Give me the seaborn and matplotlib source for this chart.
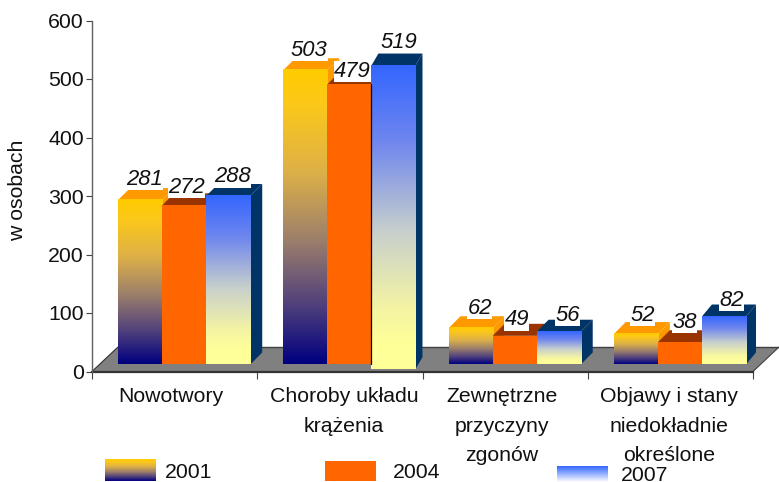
import numpy as np
import pandas as pd
import matplotlib
matplotlib.use("Agg")
import matplotlib.pyplot as plt
from matplotlib.colors import LinearSegmentedColormap as LSC
from matplotlib.patches import Polygon, Rectangle
from matplotlib.transforms import ScaledTranslation
import seaborn as sns

categories = ["Nowotwory", "Choroby układu\nkrążenia", "Zewnętrzne\nprzyczyny\nzgonów",
              "Objawy i stany\nniedokładnie\nokreślone"]
years = ["2001", "2004", "2007"]
v2001 = [281, 503, 62, 52]
v2004 = [272, 479, 49, 38]
v2007 = [288, 519, 56, 82]

W, H = 779, 482
AX_L, AX_R, AX_B, AX_T = 92, 753, 371.5, 20.5
sns.set_theme(style="white")
plt.rcParams["font.family"] = ["Liberation Sans", "DejaVu Sans"]
TXT = "#111111"
FS = 15.3

df = pd.DataFrame({
    "cat": np.repeat(categories, 3),
    "year": years * 4,
    "val": [v for t in zip(v2001, v2004, v2007) for v in t],
})

fig = plt.figure(figsize=(W / 100, H / 100), dpi=100, facecolor="white")
ax = fig.add_axes([AX_L / W, 1 - AX_B / H, (AX_R - AX_L) / W, (AX_B - AX_T) / H])
sns.barplot(data=df, x="cat", y="val", hue="year", order=categories, hue_order=years,
            gap=0, width=0.8, dodge=True, legend=False, ax=ax, errorbar=None,
            palette=["#FFCC00", "#FF6600", "#3366FF"], saturation=1, linewidth=0)
ax.set_xlim(-0.5, 3.5)
ax.set_ylim(0, 600)
PX = (AX_R - AX_L) / 4          # pixels per category
PY = (AX_B - AX_T) / 600        # pixels per unit

cm01 = LSC.from_list("c01", [(0, "#FFCC00"), (.12, "#FCC81A"), (.35, "#DDB048"), (.58, "#9C7F6B"),
                             (.8, "#50407C"), (1, "#000080")])
cm07 = LSC.from_list("c07", [(0, "#3366FF"), (.25, "#6F86EE"), (.55, "#C8D0CC"), (.8, "#F4F4A4"),
                             (.92, "#FFFF99"), (1, "#FFFF99")])
cm07k = LSC.from_list("k07", [(0, "#3366FF"), (1, "#FFFFFF")])
side_col = ["#FF9900", "#993300", "#003366"]
top_col = ["#FF9900", "#993300", "#003366"]
grad = np.linspace(0, 1, 256)[:, None]

bars = sorted([p for p in ax.patches if isinstance(p, Rectangle) and p.get_height() > 0],
              key=lambda p: p.get_x())

# floor
fx0, fx1 = -0.5, 3.5
fdx, fdy = 26 / PX, 24.5 / PY
ax.add_patch(Polygon([(fx0, 0), (fx1, 0), (fx1 + fdx, fdy), (fx0 + fdx, fdy)], closed=True,
                     facecolor="#808080", edgecolor="none", clip_on=False, zorder=1))
ax.plot([fx0 + fdx, fx1 + fdx], [fdy, fdy], color="#404040", lw=1.0, clip_on=False, zorder=1.1)
ax.plot([fx1, fx1 + fdx], [0, fdy], color="#404040", lw=0.8, clip_on=False, zorder=1.1)
ax.plot([fx0, fx0 + fdx], [0, fdy], color="#303030", lw=0.8, clip_on=False, zorder=1.1)

BASE = 12.0
SHIFT = 9.5 / PX
label_off = {  # pixel nudges of the labels relative to the bar's top centre
    281: (4, 21), 272: (2, 18), 288: (4, 19), 503: (4, 20), 479: (3, 13), 519: (5, 23),
    62: (9, 20), 49: (2, 16), 56: (9, 16), 52: (7, 19), 38: (5, 20), 82: (8, 16)}
depth_px = {519: 7, 82: 10}

for i, p in enumerate(bars):
    g, s = i // 3, i % 3
    val = p.get_height()
    base = BASE - (8 if val == 519 else 0)
    x0 = p.get_x() + SHIFT
    p.set_x(x0)
    p.set_y(base)
    p.set_clip_on(False)
    x1 = x0 + p.get_width()
    y1 = base + val
    z = 3 + i * 0.1 + g
    p.set_zorder(z)
    dx = depth_px.get(val, 12) / PX
    dy = 12 / PY
    ax.add_patch(Polygon([(x0, y1), (x1, y1), (x1 + dx, y1 + dy), (x0 + dx, y1 + dy)], closed=True,
                         facecolor=top_col[s], edgecolor="none", clip_on=False, zorder=z - .05))
    ax.add_patch(Polygon([(x1, base), (x1, y1), (x1 + dx, y1 + dy), (x1 + dx, base + dy)], closed=True,
                         facecolor=side_col[s], edgecolor="none", clip_on=False, zorder=z - .05))
    if s != 1:
        im = ax.imshow(grad, cmap=cm01 if s == 0 else cm07, extent=[x0, x1, base, y1], aspect="auto",
                       origin="upper", zorder=z + .01, interpolation="bilinear")
        im.set_clip_on(False)
    if val == 479:
        ax.plot([x1, x1], [base, y1], color="black", lw=0.9, zorder=z + .3, clip_on=False)
    ox, oy = label_off[int(val)]
    ax.annotate(str(int(val)), xy=((x0 + x1) / 2, y1), xytext=(ox * .72, oy * .72), textcoords="offset points",
                ha="center", va="center", style="italic", fontsize=FS + .5, color=TXT, zorder=40,
                annotation_clip=False,
                bbox=dict(facecolor="white", edgecolor="none", pad=0.2))
ax.set_xlim(-0.5, 3.5)
ax.set_ylim(0, 600)

for sp in ["top", "right"]:
    ax.spines[sp].set_visible(False)
ax.spines["left"].set_color("#606060")
ax.spines["left"].set_linewidth(1.0)
ax.spines["bottom"].set_color("#333333")
ax.spines["bottom"].set_linewidth(1.6)
ax.spines["bottom"].set_zorder(2)
ax.set_yticks(np.arange(0, 601, 100))
ax.tick_params(axis="y", length=4.5, width=0.8, color="#444444", labelsize=FS, labelcolor=TXT, pad=1.5, left=True)
ax.set_xticks(np.arange(-0.5, 4, 1))
ax.set_xticklabels([])
ax.tick_params(axis="x", which="major", length=5, width=0.8, color="#444444", bottom=True)
ax.set_xticks(np.arange(4), minor=True)
ax.set_xticklabels(categories, minor=True, fontsize=FS, color=TXT, linespacing=1.7)
ax.tick_params(axis="x", which="minor", length=0, pad=11.5)
for lab, nudge in zip(ax.get_xticklabels(minor=True), [-4, 4, -3, -1]):
    lab.set_transform(lab.get_transform() + ScaledTranslation(nudge / 100, 0, fig.dpi_scale_trans))
ax.set_xlabel("")
ax.set_ylabel("")
fig.text(18 / W, 1 - 190 / H, "w osobach", rotation=90, ha="center", va="center", fontsize=FS, color=TXT)


def key(x0, x1, y0, y1, cmap=None, color=None):
    a = fig.add_axes([x0 / W, 1 - y1 / H, (x1 - x0) / W, (y1 - y0) / H])
    a.axis("off")
    if cmap is not None:
        a.imshow(grad, cmap=cmap, aspect="auto", interpolation="bilinear")
    else:
        a.set_facecolor(color)
        a.axis("on")
        a.set_xticks([]); a.set_yticks([])
        for s_ in a.spines.values():
            s_.set_visible(False)


key(105, 156, 459, 481, cmap=cm01)
key(325, 376, 461, 481, color="#FF6600")
key(557, 608, 466, 482, cmap=cm07k)
for x_, y_, t_ in [(165, 478, years[0]), (393, 478, years[1]), (621, 481, years[2])]:
    fig.text(x_ / W, 1 - y_ / H, t_, ha="left", va="baseline", fontsize=FS, color=TXT)

fig.savefig("out.png", dpi=100, facecolor="white")
